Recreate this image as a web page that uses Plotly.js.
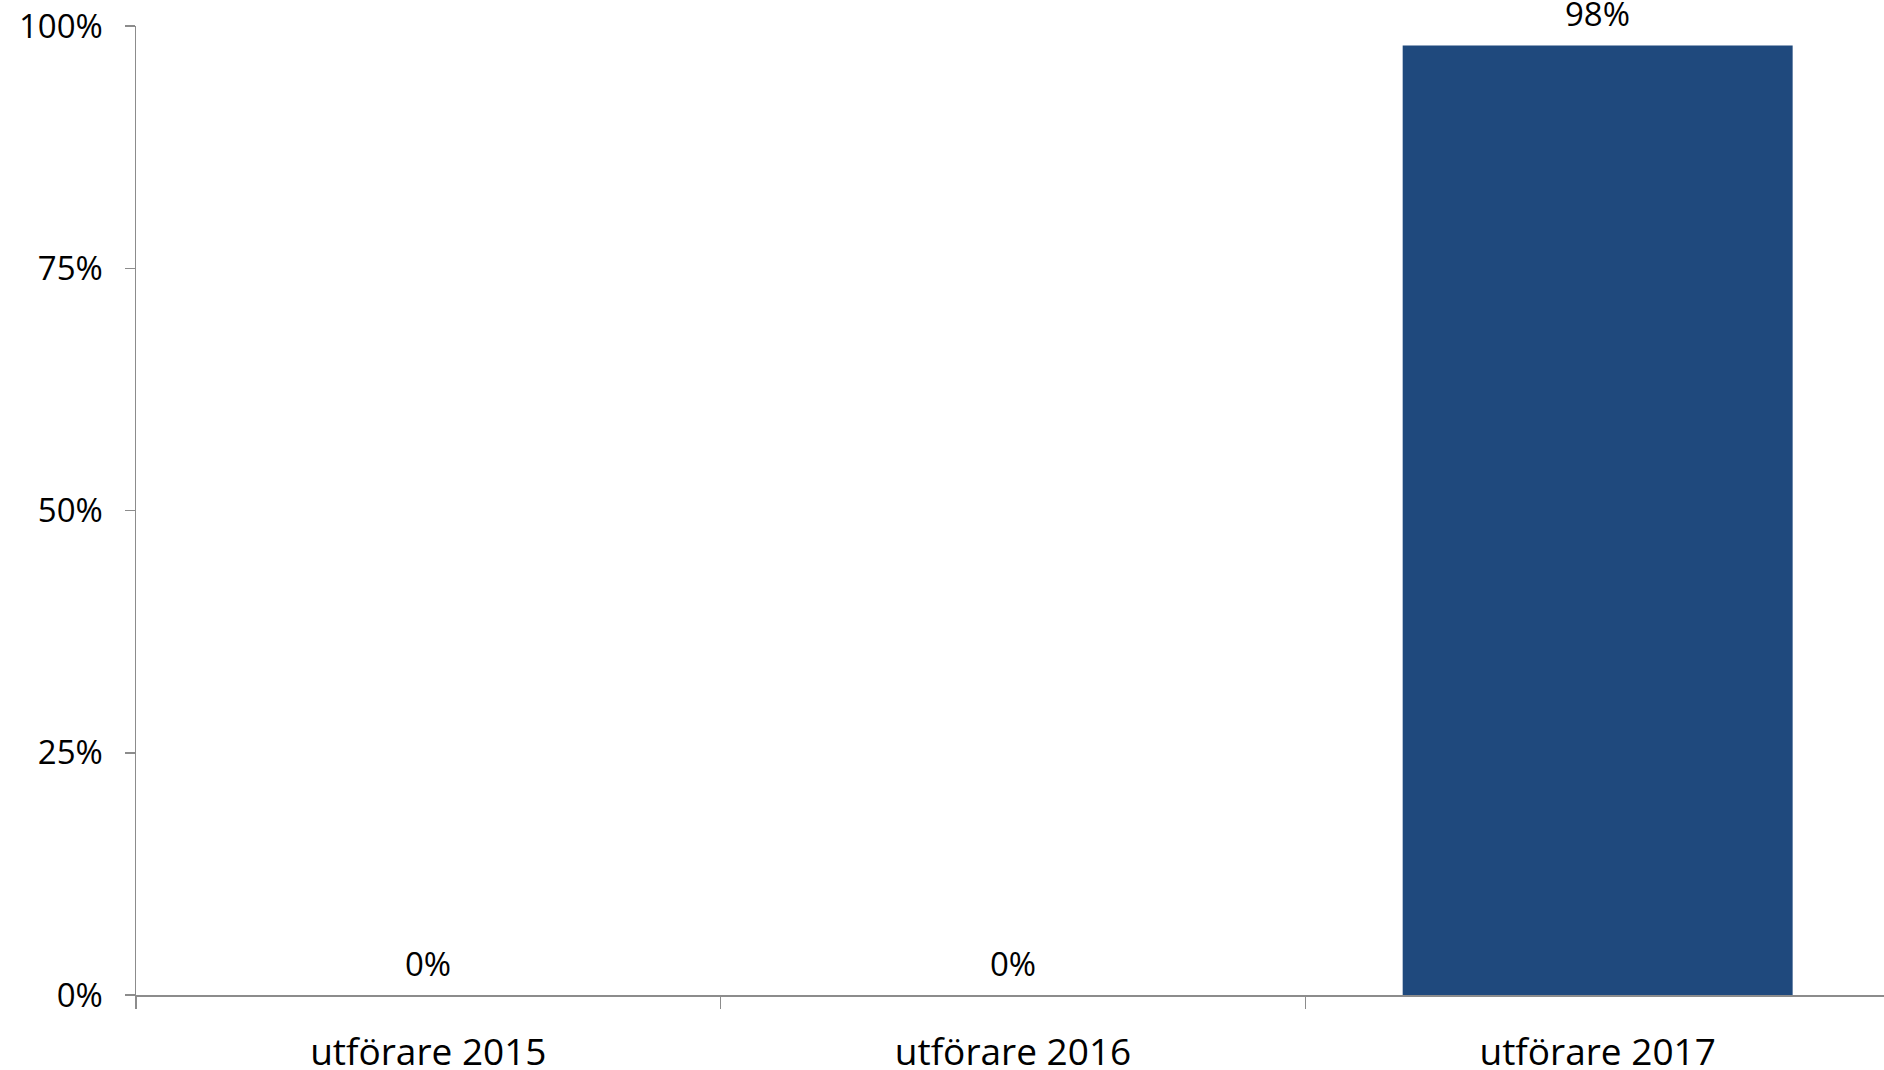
<!DOCTYPE html>
<html>
<head>
<meta charset="utf-8">
<script src="https://cdn.plot.ly/plotly-3.0.1.min.js"></script>
<style>html,body{margin:0;padding:0;background:#fff;overflow:hidden;}#chart{width:1890px;height:1070px;}</style>
</head>
<body>
<div id="chart"></div>
<script>
const categories = ["utförare 2015", "utförare 2016", "utförare 2017"];
const values = [0, 0, 0.98];
const valueLabels = ["0%", "0%", "98%"];
const yTickVals = [0, 0.25, 0.5, 0.75, 1];
const yTickText = ["0%", "25%", "50%", "75%", "100%"];

const font = "'Open Sans', 'Noto Sans', sans-serif";

const data = [
  {
    type: "bar",
    x: categories,
    y: values,
    marker: {color: "#1F497D", line: {width: 0}},
    hoverinfo: "none"
  }
];

const annotations = categories.map((c, i) => ({
  x: c,
  y: values[i],
  xref: "x",
  yref: "y",
  text: valueLabels[i],
  showarrow: false,
  xanchor: "center",
  yanchor: "middle",
  yshift: 32,
  font: {family: font, size: 33, color: "#000"}
}));

const layout = {
  width: 1890,
  height: 1070,
  margin: {l: 136, r: 0, t: 26, b: 75},
  paper_bgcolor: "#fff",
  plot_bgcolor: "#fff",
  showlegend: false,
  bargap: 0.333,
  font: {family: font, color: "#000"},
  annotations: annotations,
  xaxis: {
    type: "category",
    showgrid: false,
    zeroline: false,
    showline: true,
    linecolor: "#8c8c8c",
    linewidth: 1.5,
    ticks: "outside",
    tickson: "boundaries",
    ticklen: 12,
    tickcolor: "#8c8c8c",
    tickwidth: 1.5,
    ticklabelstandoff: 24,
    tickfont: {family: font, size: 37, color: "#000"},
    fixedrange: true
  },
  yaxis: {
    range: [0, 1],
    tickvals: yTickVals,
    ticktext: yTickText,
    showgrid: false,
    zeroline: false,
    showline: true,
    linecolor: "#8c8c8c",
    linewidth: 1.5,
    ticks: "outside",
    ticklen: 10,
    tickcolor: "#8c8c8c",
    tickwidth: 1.5,
    ticklabelstandoff: 15,
    tickfont: {family: font, size: 33, color: "#000"},
    fixedrange: true
  }
};

Plotly.newPlot("chart", data, layout, {displayModeBar: false, staticPlot: true});
</script>
</body>
</html>
